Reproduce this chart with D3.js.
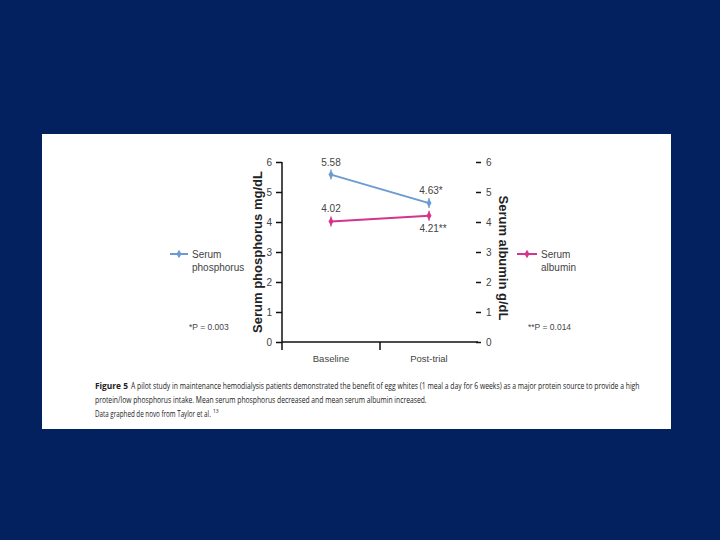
<!DOCTYPE html>
<html><head><meta charset="utf-8">
<script src="https://cdn.jsdelivr.net/npm/d3@7/dist/d3.min.js"></script>
<style>body{margin:0;background:#03215f;}svg{display:block;}</style>
</head><body>
<svg id="c" width="720" height="540"></svg>
<script>
const categories = ["Baseline", "Post-trial"];
const phosphorus = [5.58, 4.63];
const phosphorusLabels = ["5.58", "4.63*"];
const albumin = [4.02, 4.21];
const albuminLabels = ["4.02", "4.21**"];
const yTicks = [0, 1, 2, 3, 4, 5, 6];
const captionLines = [
  "A pilot study in maintenance hemodialysis patients demonstrated the benefit of egg whites (1 meal a day for 6 weeks) as a major protein source to provide a high",
  "protein/low phosphorus intake. Mean serum phosphorus decreased and mean serum albumin increased.",
  "Data graphed de novo from Taylor et al."
];

const svg = d3.select("#c");
svg.append("rect").attr("x",0).attr("y",0).attr("width",720).attr("height",540).attr("fill","#03215f");
svg.append("rect").attr("x",42).attr("y",134).attr("width",629).attr("height",295).attr("fill","#ffffff");

const x = d3.scalePoint().domain(categories).range([282, 478]).padding(0.5);
const y = d3.scaleLinear().domain([0, 6]).range([342, 162]);
const yR = d3.scaleLinear().domain([0, 6]).range([342, 162]);

const blue = "#6c9bd2", pink = "#d6338c";
const tickFont = "Liberation Sans Narrow, Liberation Sans, Arial, sans-serif";

// left axis
const gL = svg.append("g").attr("transform","translate(282,0)")
  .call(d3.axisLeft(y).tickValues(yTicks).tickSize(6).tickPadding(4).tickFormat(d3.format("d")));
gL.select(".domain").remove();
gL.selectAll("line").attr("stroke","#111").attr("stroke-width",1.5);
gL.selectAll("text").attr("font-family",tickFont).attr("font-size",10).attr("fill","#444");
svg.append("line").attr("x1",282).attr("x2",282).attr("y1",y(6)).attr("y2",350).attr("stroke","#111").attr("stroke-width",1.5);

// right axis
const gR = svg.append("g").attr("transform","translate(476,0)")
  .call(d3.axisRight(yR).tickValues(yTicks).tickSize(5).tickPadding(5).tickFormat(d3.format("d")));
gR.select(".domain").remove();
gR.selectAll("line").attr("stroke","#111").attr("stroke-width",1.5);
gR.selectAll("text").attr("font-family",tickFont).attr("font-size",10).attr("fill","#444");

// x axis
svg.append("line").attr("x1",282).attr("x2",478).attr("y1",342).attr("y2",342).attr("stroke","#111").attr("stroke-width",1.5);
const midX = (x(categories[0])+x(categories[1]))/2;
svg.append("line").attr("x1",midX).attr("x2",midX)
  .attr("y1",342).attr("y2",350).attr("stroke","#111").attr("stroke-width",1.5);
svg.selectAll(".xl").data(categories).enter().append("text")
  .attr("x",d=>x(d)).attr("y",362).attr("text-anchor","middle")
  .attr("font-family",tickFont).attr("font-size",9.5).attr("fill","#444").text(d=>d);

// axis titles
svg.append("text").attr("transform","translate(262,252) rotate(-90)").attr("text-anchor","middle")
  .attr("font-family","Liberation Sans, Arial, sans-serif").attr("font-weight","bold").attr("font-size",13).attr("fill","#222")
  .text("Serum phosphorus mg/dL");
svg.append("text").attr("transform","translate(499,258) rotate(90)").attr("text-anchor","middle")
  .attr("font-family","Liberation Sans, Arial, sans-serif").attr("font-weight","bold").attr("font-size",13).attr("fill","#222")
  .text("Serum albumin g/dL");

function drawSeries(vals, color, scale){
  const line = d3.line().x((d,i)=>x(categories[i])).y(d=>scale(d));
  svg.append("path").datum(vals).attr("d",line).attr("fill","none").attr("stroke",color).attr("stroke-width",2);
  const g = svg.append("g");
  vals.forEach((v,i)=>{
    const cx = x(categories[i]), cy = scale(v);
    g.append("line").attr("x1",cx).attr("x2",cx).attr("y1",cy-5).attr("y2",cy+5).attr("stroke",color).attr("stroke-width",1.2);
    g.append("path").attr("d",d3.symbol(d3.symbolDiamond,22)()).attr("transform",`translate(${cx},${cy})`).attr("fill",color);
  });
}
drawSeries(phosphorus, blue, y);
drawSeries(albumin, pink, yR);

// value labels
function lab(xx,yy,t,anchor){
  svg.append("text").attr("x",xx).attr("y",yy).attr("text-anchor",anchor||"middle")
    .attr("font-family",tickFont).attr("font-size",10).attr("fill","#444").text(t);
}
lab(x(categories[0]), y(phosphorus[0])-9, phosphorusLabels[0]);
lab(x(categories[1])+2, y(phosphorus[1])-9, phosphorusLabels[1]);
lab(x(categories[0]), yR(albumin[0])-9, albuminLabels[0]);
lab(x(categories[1])+4, yR(albumin[1])+16, albuminLabels[1]);

// legends
function legend(x0, x1, yy, color, lines, tx){
  svg.append("line").attr("x1",x0).attr("x2",x1).attr("y1",yy).attr("y2",yy).attr("stroke",color).attr("stroke-width",2);
  svg.append("path").attr("d",d3.symbol(d3.symbolDiamond,22)()).attr("transform",`translate(${(x0+x1)/2},${yy})`).attr("fill",color);
  lines.forEach((t,i)=>{
    svg.append("text").attr("x",tx).attr("y",yy+4+i*13).attr("font-family",tickFont).attr("font-size",10).attr("fill","#444").text(t);
  });
}
legend(170, 188, 254, blue, ["Serum","phosphorus"], 192);
legend(517, 537, 254, pink, ["Serum","albumin"], 541);
svg.append("text").attr("x",189).attr("y",330).attr("font-family",tickFont).attr("font-size",8.5).attr("fill","#444").text("*P = 0.003");
svg.append("text").attr("x",528).attr("y",330).attr("font-family",tickFont).attr("font-size",8.5).attr("fill","#444").text("**P = 0.014");

// caption: draw at natural size, then squeeze horizontally to the reference width
const capFont = "Open Sans, Liberation Sans Narrow, sans-serif";
function cap(xx, yy, t, w, bold){
  const e = svg.append("text").attr("x",0).attr("y",0).attr("font-family",capFont).attr("font-size",9.5)
    .attr("fill","#222").text(t);
  if (bold) e.attr("font-weight","bold");
  const nat = e.node().getComputedTextLength();
  const s = w / nat;
  e.attr("transform",`translate(${xx},${yy}) scale(${s},1)`);
  return e;
}
cap(95, 389, "Figure 5", 33, true);
cap(131, 389, captionLines[0], 509);
cap(95, 403, captionLines[1], 332);
cap(95, 417, captionLines[2], 116);
svg.append("text").attr("x",213).attr("y",413).attr("font-family",capFont).attr("font-size",5).attr("fill","#222").text("13");
</script>
</body></html>
